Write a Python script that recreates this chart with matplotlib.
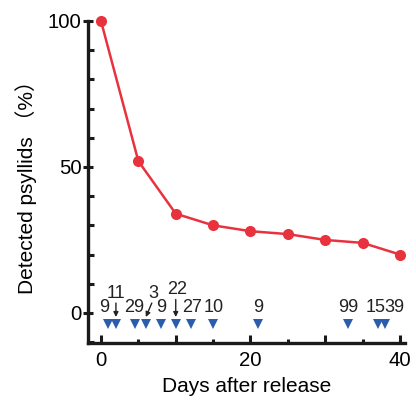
import matplotlib
matplotlib.use("Agg")
import matplotlib.pyplot as plt
from matplotlib.ticker import MultipleLocator

# ---- data ----
days = [0, 5, 10, 15, 20, 25, 30, 35, 40]
detected = [100, 52, 34, 30, 28, 27, 25, 24, 20]
release_days = [1, 2, 4.5, 6, 8, 10, 12, 15, 21, 33, 37, 38]
release_counts = [9, 11, 29, 3, 9, 22, 27, 10, 9, 99, 15, 39]

# ---- layout of count labels (x offset, y level, arrow) ----
label_layout = [
    (-0.6, 1.7, None),
    (0.0, 6.5, (0.0, 3.4)),
    (0.0, 1.7, None),
    (1.0, 6.5, (0.8, 3.4)),
    (0.1, 1.7, None),
    (0.2, 7.9, (0.0, 4.6)),
    (0.2, 1.7, None),
    (0.1, 1.7, None),
    (0.0, 1.7, None),
    (0.1, 1.7, None),
    (-0.2, 1.7, None),
    (1.3, 1.7, None),
]

FONT = ['Liberation Sans', 'Noto Sans CJK JP', 'DejaVu Sans']
plt.rcParams['font.family'] = FONT

fig = plt.figure(figsize=(4.16, 4.0), dpi=100)
ax = fig.add_axes([0.2115, 0.1425, 0.762, 0.805])

red = '#E8333F'
blue = '#2B5DAA'
tri_y = -3.8

ax.plot(days, detected, color=red, lw=1.8, marker='o', ms=8,
        markeredgewidth=0, clip_on=False, zorder=3)
ax.plot(release_days, [tri_y] * len(release_days), linestyle='none',
        marker='v', color=blue, ms=6.5, markeredgewidth=0, clip_on=False)

for xd, n, (dx, ly, arr) in zip(release_days, release_counts, label_layout):
    ax.text(xd + dx, ly, str(n), ha='center', va='center', fontsize=13,
            color='#222222')
    if arr is not None:
        x0, y0 = xd + arr[0], arr[1]
        ax.annotate('', xy=(xd, -1.4), xytext=(x0, y0),
                    arrowprops=dict(arrowstyle='-|>', color='#222222', lw=1.0,
                                    mutation_scale=7, shrinkA=0, shrinkB=0))

ax.set_xlim(-1.74, 40.67)
ax.set_ylim(-10.3, 100)

for s in ['top', 'right']:
    ax.spines[s].set_visible(False)
for s in ['left', 'bottom']:
    ax.spines[s].set_linewidth(2.4)
    ax.spines[s].set_color('#1a1a1a')

ax.set_yticks([0, 50, 100])
ax.yaxis.set_minor_locator(MultipleLocator(10))
ax.set_xticks([0, 10, 20, 30, 40])
ax.set_xticklabels(['0', '', '20', '', '40'])
ax.xaxis.set_minor_locator(MultipleLocator(5))

ax.tick_params(axis='y', which='major', direction='inout', length=7, width=2.2,
               labelsize=14.7, pad=1, color='#1a1a1a')
ax.tick_params(axis='y', which='minor', direction='in', length=4, width=2.2,
               color='#1a1a1a')
ax.tick_params(axis='x', which='major', direction='in', length=6, width=2.2,
               labelsize=14.7, pad=6, color='#1a1a1a')
ax.tick_params(axis='x', which='minor', direction='in', length=3, width=2.2,
               color='#1a1a1a')

ax.set_xlabel('Days after release', fontsize=15, labelpad=5)
ax.set_ylabel('Detected psyllids （%）', fontsize=15, labelpad=8)

fig.savefig('out.png', dpi=100)
